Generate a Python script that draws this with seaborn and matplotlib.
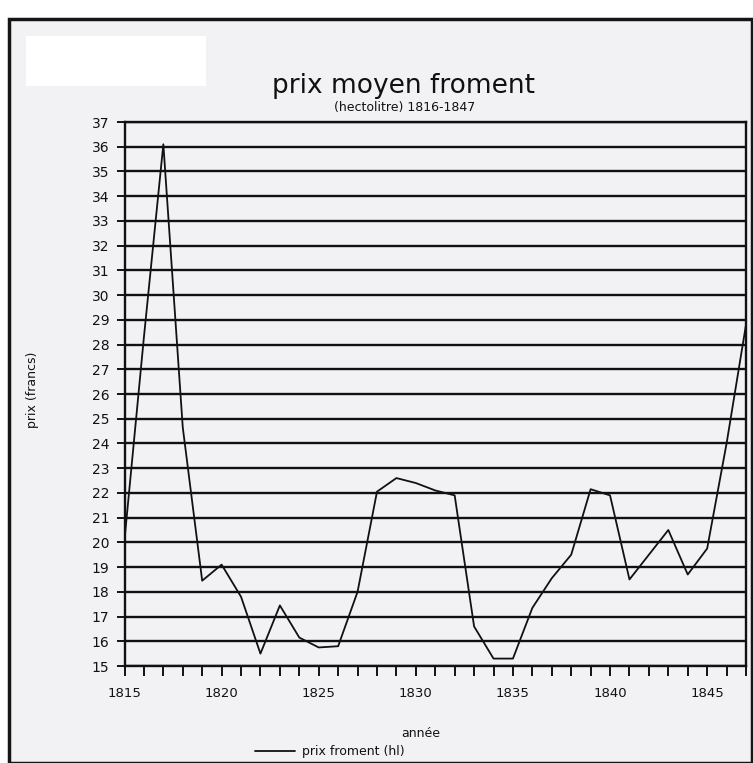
import matplotlib
matplotlib.use("Agg")
import matplotlib.pyplot as plt
from matplotlib import font_manager
from matplotlib.patches import Rectangle
import seaborn as sns
import pandas as pd

# Prix moyen de l'hectolitre de froment, 1815-1847 (francs)
annees = list(range(1815, 1848))
prix = [20.1, 28.3, 36.1, 24.65, 18.45, 19.1, 17.8, 15.5, 17.45, 16.15,
        15.75, 15.8, 18.0, 22.05, 22.6, 22.4, 22.1, 21.9, 16.6, 15.3,
        15.3, 17.35, 18.55, 19.5, 22.15, 21.9, 18.5, 19.5, 20.5, 18.7,
        19.75, 24.0, 28.8]
graduations_x = [1815, 1820, 1825, 1830, 1835, 1840, 1845]
graduations_y = list(range(15, 38))

titre = "prix moyen froment"
sous_titre = "(hectolitre) 1816-1847"
legende = "prix froment (hl)"

df = pd.DataFrame({"annee": annees, "prix": prix})

sns.set_theme(style="white")
installed = {f.name for f in font_manager.fontManager.ttflist}
narrow = "Liberation Sans Narrow" if "Liberation Sans Narrow" in installed else "DejaVu Sans"
plt.rcParams["font.family"] = ["DejaVu Sans"]

papier = "#f2f2f4"
encre = "#111111"

fig = plt.figure(figsize=(7.53, 7.63), dpi=100, facecolor="white")
# feuille grisée avec son cadre noir
fig.patches.append(Rectangle((9 / 753, 0), 743 / 753, 1 - 19 / 763,
                             transform=fig.transFigure, facecolor=papier,
                             edgecolor="#151515", linewidth=2.5, zorder=-2))
fig.patches.append(Rectangle((26 / 753, 1 - 86 / 763), 180 / 753, 50 / 763,
                             transform=fig.transFigure, facecolor="white",
                             edgecolor="none", zorder=-1))

ax = fig.add_axes([124.5 / 753, 1 - 666 / 763, (746 - 124.5) / 753, (666 - 122) / 763])
ax.set_zorder(5)
ax.set_facecolor("none")

sns.lineplot(data=df, x="annee", y="prix", color=encre, linewidth=1.3,
             label=legende, ax=ax, zorder=3)

ax.set_xlim(1815, 1847)
ax.set_ylim(15, 37)
ax.set_xticks(graduations_x)
ax.set_xticks(annees, minor=True)
ax.set_yticks(graduations_y)
ax.set_xticklabels([str(a) for a in graduations_x], family=narrow, fontsize=9.5)
ax.set_yticklabels([str(v) for v in graduations_y], family=narrow, fontsize=10)

ax.yaxis.grid(True, color=encre, linewidth=1.7)
ax.xaxis.grid(False)
for s in ax.spines.values():
    s.set_visible(True)
    s.set_color(encre)
    s.set_linewidth(1.7)

ax.tick_params(axis="x", which="both", direction="out", length=7, width=1.4,
               color=encre, bottom=True, pad=8, labelcolor=encre)
ax.tick_params(axis="y", which="major", direction="out", length=6, width=1.4,
               color=encre, left=True, pad=5, labelcolor=encre)

ax.set_xlabel("année", fontsize=9, color=encre)
ax.xaxis.set_label_coords(0.476, -0.112)
ax.set_ylabel("prix (francs)", fontsize=9, color=encre)
ax.yaxis.set_label_coords(-0.138, 0.507)

fig.text(404 / 753, 1 - 86 / 763, titre, ha="center", va="center",
         fontsize=19, color=encre)
fig.text(405 / 753, 1 - 107 / 763, sous_titre, ha="center", va="center",
         fontsize=9, color=encre, family=narrow)

leg = ax.legend(loc="center", bbox_to_anchor=(330 / 753, 1 - 752 / 763),
                bbox_transform=fig.transFigure, frameon=False, fontsize=9,
                handlelength=3.2, handletextpad=0.6)
for t in leg.get_texts():
    t.set_color(encre)

fig.savefig("out.png", dpi=100, facecolor=fig.get_facecolor())
